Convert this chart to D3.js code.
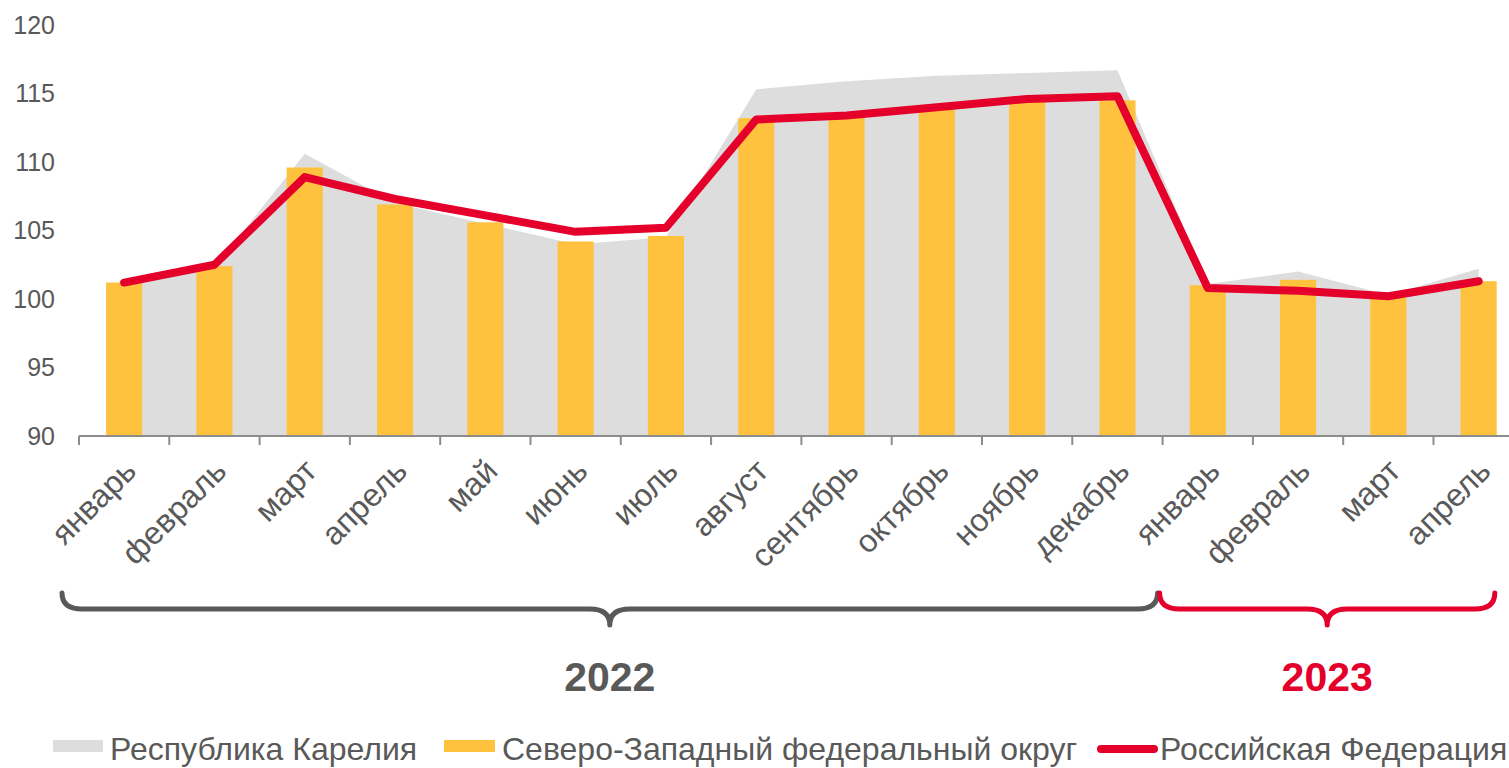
<!DOCTYPE html>
<html>
<head>
<meta charset="utf-8">
<script src="https://cdn.jsdelivr.net/npm/d3@7"></script>
<style>
    body { margin: 0; background: #fff; }
    svg { display: block; font-family: "Liberation Sans", Arial, sans-serif; }
</style>
</head>
<body>
<svg id="chart" width="1509" height="768"></svg>
<script>
// data
const months = ["январь", "февраль", "март", "апрель", "май", "июнь", "июль", "август",
    "сентябрь", "октябрь", "ноябрь", "декабрь", "январь", "февраль", "март", "апрель"];
const karelia = [101.0, 102.3, 110.6, 107.0, 105.5, 104.0, 104.5, 115.3, 115.9, 116.3, 116.5, 116.7, 101.1, 102.0, 100.3, 102.2];
const szfo = [101.2, 102.4, 109.6, 106.9, 105.6, 104.2, 104.6, 113.2, 113.6, 113.9, 114.4, 114.5, 101.0, 101.4, 100.1, 101.3];
const rf = [101.2, 102.5, 108.9, 107.3, 106.1, 104.9, 105.2, 113.1, 113.4, 114.0, 114.6, 114.8, 100.8, 100.6, 100.2, 101.3];
const yTicks = [90, 95, 100, 105, 110, 115, 120];
const years = [
    { label: "2022", from: 0, to: 12, color: "#595959" },
    { label: "2023", from: 12, to: 16, color: "#e4002b" }
];
const legendItems = ["Республика Карелия", "Северо-Западный федеральный округ", "Российская Федерация"];

const svg = d3.select("#chart");
const textColor = "#595959";

const x = d3.scaleBand()
    .domain(d3.range(months.length))
    .range([79, 79 + 16 * 90.3])
    .paddingInner(0)
    .paddingOuter(0);
const y = d3.scaleLinear().domain([90, 120]).range([436, 25]);
const cx = i => x(i) + x.bandwidth() / 2;

// Карелия area
const area = d3.area()
    .x((d, i) => cx(i))
    .y0(y(90))
    .y1(d => y(d));
svg.append("path")
    .datum(karelia)
    .attr("d", area)
    .attr("fill", "#dddddd");

// СЗФО bars
const barW = x.bandwidth() * 0.4;
svg.selectAll("rect.bar")
    .data(szfo)
    .enter().append("rect")
    .attr("class", "bar")
    .attr("x", (d, i) => cx(i) - barW / 2)
    .attr("width", barW)
    .attr("y", d => y(d))
    .attr("height", d => y(90) - y(d))
    .attr("fill", "#ffc23f");

// x axis
const xAxis = svg.append("g").attr("transform", "translate(0," + y(90) + ")");
xAxis.append("line")
    .attr("x1", x.range()[0]).attr("x2", x.range()[1])
    .attr("stroke", "#8c8c8c").attr("stroke-width", 2);
xAxis.selectAll("line.tick")
    .data(d3.range(months.length))
    .enter().append("line")
    .attr("class", "tick")
    .attr("x1", i => x(i)).attr("x2", i => x(i))
    .attr("y1", 0).attr("y2", 9)
    .attr("stroke", "#8c8c8c").attr("stroke-width", 2);

svg.selectAll("text.month")
    .data(months)
    .enter().append("text")
    .attr("class", "month")
    .attr("transform", (d, i) => "translate(" + (cx(i) + 6) + "," + 465 + ") rotate(-45)")
    .attr("text-anchor", "end")
    .attr("dy", "0.35em")
    .attr("font-size", 32)
    .attr("fill", textColor)
    .text(d => d);

// y labels
svg.selectAll("text.ytick")
    .data(yTicks)
    .enter().append("text")
    .attr("class", "ytick")
    .attr("x", 55)
    .attr("y", d => y(d))
    .attr("dy", "0.35em")
    .attr("text-anchor", "end")
    .attr("font-size", 25)
    .attr("fill", textColor)
    .text(d => d);

// РФ line
const line = d3.line()
    .x((d, i) => cx(i))
    .y(d => y(d));
svg.append("path")
    .datum(rf)
    .attr("d", line)
    .attr("fill", "none")
    .attr("stroke", "#e4002b")
    .attr("stroke-width", 8)
    .attr("stroke-linejoin", "round")
    .attr("stroke-linecap", "round");

// year braces
function brace(x0, x1, xm) {
    const y0 = 593, y1 = 609, y2 = 625, r = 20;
    return "M" + x0 + "," + y0 +
        " Q" + x0 + "," + y1 + " " + (x0 + r) + "," + y1 +
        " L" + (xm - r) + "," + y1 +
        " Q" + xm + "," + y1 + " " + xm + "," + y2 +
        " Q" + xm + "," + y1 + " " + (xm + r) + "," + y1 +
        " L" + (x1 - r) + "," + y1 +
        " Q" + x1 + "," + y1 + " " + x1 + "," + y0;
}
const braceEnds = [[x(0) - 17, x(12) - 5], [x(12) - 3, x(15) + x.bandwidth() - 29]];
years.forEach((yr, k) => {
    const [b0, b1] = braceEnds[k];
    const mid = (b0 + b1) / 2;
    svg.append("path")
        .attr("d", brace(b0, b1, mid))
        .attr("fill", "none")
        .attr("stroke", yr.color)
        .attr("stroke-width", 5)
        .attr("stroke-linecap", "round")
        .attr("stroke-linejoin", "round");
    svg.append("text")
        .attr("x", mid)
        .attr("y", 691)
        .attr("text-anchor", "middle")
        .attr("font-size", 41)
        .attr("font-weight", "bold")
        .attr("fill", yr.color)
        .text(yr.label);
});

// legend
const legend = svg.append("g");
legend.append("rect").attr("x", 53).attr("y", 740).attr("width", 50).attr("height", 12).attr("fill", "#dddddd");
legend.append("rect").attr("x", 444).attr("y", 740).attr("width", 51).attr("height", 12).attr("fill", "#ffc23f");
legend.append("line").attr("x1", 1101).attr("x2", 1154).attr("y1", 749).attr("y2", 749)
    .attr("stroke", "#e4002b").attr("stroke-width", 8).attr("stroke-linecap", "round");
const legendX = [110, 502, 1160];
legend.selectAll("text")
    .data(legendItems)
    .enter().append("text")
    .attr("x", (d, i) => legendX[i])
    .attr("y", 760)
    .attr("font-size", 32)
    .attr("fill", textColor)
    .text(d => d);
</script>
</body>
</html>
